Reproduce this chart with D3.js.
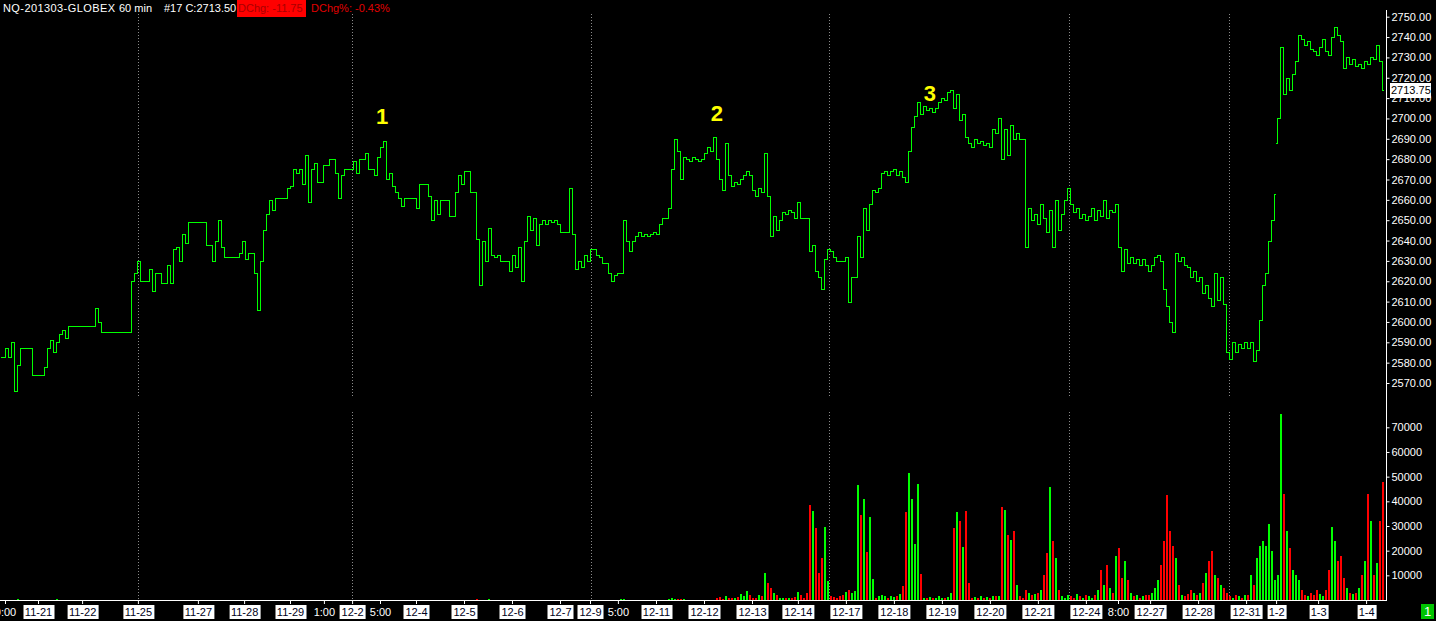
<!DOCTYPE html>
<html>
<head>
<meta charset="utf-8">
<title>NQ-201303-GLOBEX 60 min</title>
<script src="https://cdn.jsdelivr.net/npm/d3@7"></script>
<style>
body { margin: 0; background: #000; overflow: hidden; }
svg { display: block; font-family: "Liberation Sans", Arial, sans-serif; }
</style>
</head>
<body>
<div id="chartdiv"></div>
<script>
/*global d3 */

////////////////////////////////////////
// chart data
////////////////////////////////////////

// one close per hourly bar, bar 0 = left edge
var closes = [
    2583, 2587, 2583, 2590, 2566, 2579, 2587, 2587, 2587, 2587,
    2574, 2574, 2574, 2574, 2578, 2587, 2591, 2585, 2590, 2594,
    2596, 2592, 2598, 2598, 2598, 2598, 2598, 2598, 2598, 2598,
    2598, 2607, 2600, 2595, 2595, 2595, 2595, 2595, 2595, 2595,
    2595, 2595, 2595, 2620, 2624, 2630, 2620, 2620, 2620, 2626,
    2615, 2624, 2624, 2619, 2619, 2628, 2619, 2636, 2637, 2630,
    2643, 2639, 2649, 2649, 2649, 2649, 2649, 2649, 2638, 2638,
    2630, 2640, 2650, 2637, 2632, 2632, 2632, 2632, 2632, 2634,
    2640, 2631, 2634, 2634, 2624, 2606, 2630, 2645, 2653, 2660,
    2655, 2661, 2661, 2661, 2661, 2666, 2667, 2675, 2673, 2675,
    2668, 2682, 2659, 2675, 2678, 2669, 2669, 2677, 2677, 2680,
    2680, 2673, 2661, 2672, 2675, 2675, 2675, 2679, 2673, 2680,
    2680, 2683, 2675, 2675, 2672, 2681, 2686, 2689, 2670, 2673,
    2667, 2664, 2661, 2657, 2661, 2661, 2661, 2661, 2656, 2668,
    2668, 2668, 2662, 2650, 2660, 2653, 2660, 2660, 2660, 2652,
    2652, 2664, 2672, 2668, 2674, 2674, 2664, 2664, 2641, 2618,
    2640, 2630, 2646, 2633, 2632, 2633, 2630, 2630, 2630, 2625,
    2633, 2627, 2637, 2620, 2640, 2652, 2645, 2651, 2638, 2648,
    2650, 2648, 2650, 2649, 2650, 2648, 2644, 2644, 2644, 2666,
    2643, 2626, 2630, 2627, 2633, 2630, 2636, 2636, 2633, 2632,
    2629, 2629, 2624, 2620, 2623, 2624, 2624, 2650, 2640, 2635,
    2640, 2642, 2644, 2642, 2643, 2642, 2643, 2644, 2643, 2648,
    2651, 2651, 2656, 2675, 2690, 2684, 2670, 2681, 2680, 2679,
    2681, 2680, 2679, 2680, 2683, 2686, 2684, 2691, 2680, 2670,
    2665, 2688, 2672, 2667, 2669, 2668, 2670, 2672, 2674, 2672,
    2665, 2662, 2666, 2664, 2683, 2662, 2642, 2652, 2645, 2650,
    2654, 2653, 2655, 2654, 2651, 2659, 2651, 2651, 2651, 2635,
    2638, 2625, 2622, 2616, 2631, 2636, 2635, 2632, 2630, 2630,
    2630, 2632, 2610, 2622, 2622, 2642, 2632, 2656, 2645, 2658,
    2665, 2664, 2666, 2673, 2674, 2672, 2674, 2675, 2672, 2674,
    2671, 2669, 2684, 2696, 2701, 2708, 2702, 2706, 2704, 2705,
    2703, 2705, 2708, 2710, 2709, 2713, 2714, 2705, 2712, 2699,
    2702, 2691, 2688, 2686, 2690, 2688, 2689, 2687, 2688, 2686,
    2695, 2693, 2700, 2680, 2695, 2682, 2697, 2690, 2693, 2690,
    2690, 2637, 2656, 2650, 2653, 2648, 2658, 2651, 2644, 2655,
    2637, 2660, 2645, 2653, 2660, 2666, 2658, 2654, 2656, 2651,
    2653, 2650, 2652, 2656, 2650, 2655, 2652, 2660, 2651, 2655,
    2654, 2658, 2637, 2625, 2636, 2629, 2632, 2629, 2631, 2628,
    2631, 2628, 2625, 2628, 2632, 2633, 2630, 2616, 2608, 2600,
    2595, 2634, 2630, 2632, 2628, 2627, 2622, 2625, 2620, 2622,
    2614, 2618, 2612, 2608, 2624, 2611, 2622, 2609, 2585, 2582,
    2590, 2585, 2589, 2587, 2590, 2587, 2590, 2581, 2586, 2601,
    2618, 2624, 2640, 2650, 2663, 2700, 2735, 2712, 2720, 2714,
    2722, 2728, 2741, 2739, 2736, 2738, 2734, 2733, 2731, 2735,
    2739, 2733, 2731, 2740, 2745, 2741, 2738, 2725, 2730, 2727,
    2729, 2726, 2727, 2725, 2728, 2727, 2730, 2729, 2736, 2728,
    2713.75
];

// bars that opened away from the previous close: [bar, open]
var gapOpens = [[425, 2688]];

// contracts per bar, in thousands
var volumesK = [
    0, 0, 0, 0, 0, 0.3, 0, 0, 0, 0,
    0, 0, 0, 0, 0, 0, 0, 0, 0.3, 0,
    0, 0, 0, 0, 0, 0, 0, 0, 0, 0,
    0, 0, 0, 0, 0, 0, 0, 0, 0, 0,
    0, 0, 0, 0, 0, 0, 0, 0, 0, 0,
    0, 0, 0, 0, 0, 0, 0, 0, 0, 0,
    0, 0, 0, 0, 0, 0, 0, 0, 0, 0,
    0, 0, 0, 0, 0, 0, 0, 0, 0, 0,
    0, 0, 0, 0, 0, 0, 0, 0, 0, 0,
    0, 0, 0, 0, 0, 0, 0, 0, 0, 0,
    0, 0, 0, 0, 0, 0, 0, 0, 0, 0,
    0, 0, 0, 0, 0, 0, 0, 0, 0, 0,
    0, 0, 0, 0, 0, 0, 0, 0, 0, 0,
    0, 0, 0, 0, 0, 0, 0, 0, 0, 0,
    0, 0, 0, 0, 0, 0, 0, 0, 0, 0,
    0, 0, 0, 0, 0, 0, 0, 0, 0.6, 0,
    0, 0, 0.5, 0, 0, 0, 0, 0, 0, 0,
    0, 0, 0, 0, 0, 0, 0, 0, 0, 0,
    0, 0, 0, 0, 0, 0, 0, 0, 0, 0,
    0, 0, 0, 0, 0, 0, 0, 0, 0, 0,
    0, 0, 0, 0, 0, 0, 0.5, 0.4, 0, 0,
    0, 0, 0, 0, 0, 0, 0, 0, 0, 0,
    0, 0, 0.5, 0.8, 0.6, 0.4, 0.5, 0.3, 0, 0,
    0, 0, 0, 0, 0, 0, 0, 0, 0.8, 1.2,
    0.6, 1.5, 0.7, 1.0, 0.8, 1.2, 2.5, 1.5, 3.5, 2.0,
    1.0, 0.8, 2.0, 1.5, 11, 7, 5, 3, 2, 1,
    0.8, 0.8, 1, 1, 1.2, 3.2, 2, 1, 3, 38.5,
    36.2, 29.3, 11, 17.1, 29.7, 7.7, 1.5, 1.2, 1, 1.5,
    2, 3.3, 4, 3, 3.5, 46.6, 34.5, 41, 19.6, 33.6,
    8.5, 1, 1.5, 2, 1.5, 1, 1.5, 1.2, 1.5, 2.5,
    5.7, 35.8, 51.4, 41, 22.8, 47, 10.5, 0.8, 1, 1.2,
    0.8, 1, 1.5, 1, 0.8, 1.2, 3, 29.2, 35.8, 32,
    21.5, 36.1, 6.9, 1, 1.2, 0.8, 1.5, 1, 1.2, 0.8,
    1.5, 1.5, 1.8, 37.7, 36.5, 26.3, 24.3, 28, 6.1, 1.5,
    1, 4, 3, 2, 2.5, 3, 4, 10, 19, 46,
    24, 17, 4, 1.5, 1, 2, 1.5, 1, 2.5, 1.5,
    1, 2, 1.5, 1, 2, 4, 12, 6, 14, 5,
    3, 18, 21, 9, 16, 8, 3, 1.5, 2, 1,
    1.5, 2, 2, 3, 5, 8, 14, 24, 42.5, 28,
    22, 17, 6, 2, 1.5, 2.5, 4, 3, 2, 3,
    7, 11, 16, 20, 10, 9, 6, 5, 3, 1.5,
    1, 2, 1.5, 1, 2, 2, 10, 6, 17, 22,
    24, 22, 31, 20, 8, 10, 75.5, 43, 28, 21,
    12, 10, 8, 4, 2, 1.5, 3, 2, 4, 2.5,
    1.5, 4, 12, 29.5, 24, 16, 18, 9, 5, 3,
    2.5, 3, 5, 10, 16, 43, 32, 10, 15, 32,
    48
];

// session labels on the time axis: [text, bar]
var dateLabels = [
    ["11-21", 12], ["11-22", 26.7], ["11-25", 45.3], ["11-27", 65.3],
    ["11-28", 80.7], ["11-29", 96], ["12-2", 116.7], ["12-4", 138],
    ["12-5", 154], ["12-6", 170], ["12-7", 186], ["12-9", 196],
    ["12-11", 218], ["12-12", 234], ["12-13", 250], ["12-14", 265.3],
    ["12-17", 281.3], ["12-18", 297.3], ["12-19", 313.3], ["12-20", 329.3],
    ["12-21", 345.3], ["12-24", 361.3], ["12-27", 382.7], ["12-28", 398.7],
    ["12-31", 414.7], ["1-2", 424.7], ["1-3", 438.7], ["1-4", 454.7]
];
var timeLabels = [["0:00", 1], ["1:00", 107.3], ["5:00", 126], ["5:00", 205.3], ["8:00", 372]];

// first bar of each week (dotted separators)
var weekStarts = [45.3, 116.7, 196.3, 275.7, 355.7, 409];

var priceTicks = [2570, 2580, 2590, 2600, 2610, 2620, 2630, 2640, 2650, 2660,
                  2670, 2680, 2690, 2700, 2710, 2720, 2730, 2740, 2750];
var volumeTicks = [10000, 20000, 30000, 40000, 50000, 60000, 70000];

// wave counts written on the chart: [text, bar, price]
var waveMarks = [["1", 126.7, 2697.2], ["2", 238.3, 2698.7], ["3", 309.3, 2708.5]];

var lastPrice = 2713.75;


var app = {};

app.chart = (function () {
    "use strict";

    ////////////////////////////////////////
    // closure variables
    ////////////////////////////////////////

    var cw = 1436, ch = 621,
        axisX = 1386.5,
        green = "#00ff00", red = "#ff0000",
        svg, x, yp, yv, bars,


    ////////////////////////////////////////
    // helper functions
    ////////////////////////////////////////

    buildBars = function () {
        var gapmap = {}, up = true;
        gapOpens.forEach(function (g) { gapmap[g[0]] = g[1]; });
        bars = closes.map(function (c, i) {
            var o = (gapmap[i] !== undefined) ? gapmap[i] : (i ? closes[i - 1] : c);
            return {i: i, open: o, close: c, vol: volumesK[i] * 1000};
        });
        //flat bars keep the colour of the bar before
        bars.forEach(function (b) {
            if(b.close > b.open) { up = true; }
            else if(b.close < b.open) { up = false; }
            b.up = up; });
    },


    px = function (i) {
        return Math.round(x(i));
    },


    drawSeparators = function () {
        var g = svg.append("g")
            .attr("stroke", "#8a8a8a")
            .attr("stroke-dasharray", "1,2");
        g.selectAll("line.wk").data(weekStarts).join("line")
            .attr("x1", function (d) { return px(d) + 0.5; })
            .attr("x2", function (d) { return px(d) + 0.5; })
            .attr("y1", 14).attr("y2", 398);
        g.selectAll("line.wv").data(weekStarts).join("line")
            .attr("x1", function (d) { return px(d) + 0.5; })
            .attr("x2", function (d) { return px(d) + 0.5; })
            .attr("y1", 412).attr("y2", 600);
    },


    drawPrice = function () {
        svg.append("g")
            .attr("fill", "none")
            .attr("stroke", green)
            .attr("shape-rendering", "crispEdges")
            .selectAll("path").data(bars).join("path")
            .attr("d", function (b) {
                var xi = px(b.i),
                    yo = Math.round(yp(b.open)) + 0.5,
                    yc = Math.round(yp(b.close)) + 0.5;
                return "M" + (xi - 1) + "," + yo + "H" + (xi + 0.5) +
                    "V" + yc + "H" + (xi + 2);
            });
    },


    drawVolume = function () {
        svg.append("g")
            .attr("shape-rendering", "crispEdges")
            .selectAll("rect").data(bars.filter(function (b) { return b.vol > 0; }))
            .join("rect")
            .attr("x", function (b) { return px(b.i); })
            .attr("width", 2)
            .attr("y", function (b) { return Math.min(599, Math.round(yv(b.vol))); })
            .attr("height", function (b) {
                return 600 - Math.min(599, Math.round(yv(b.vol))); })
            .attr("fill", function (b) { return b.up ? green : red; });
    },


    styleAxis = function (g) {
        g.attr("font-family", null).attr("font-size", null);
        g.select(".domain").remove();
        g.selectAll(".tick line").attr("stroke", "#fff");
        g.selectAll(".tick text").attr("fill", "#fff")
            .style("font-size", "11px");
    },


    drawRightAxes = function () {
        var g, vb;
        g = svg.append("g").attr("transform", "translate(" + axisX + ",0)")
            .call(d3.axisRight(yp).tickValues(priceTicks).tickSize(3)
                  .tickPadding(2).tickFormat(d3.format(".2f")));
        styleAxis(g);
        g = svg.append("g").attr("transform", "translate(" + axisX + ",0)")
            .call(d3.axisRight(yv).tickValues(volumeTicks).tickSize(3)
                  .tickPadding(2).tickFormat(d3.format("d")));
        styleAxis(g);
        svg.append("path")
            .attr("d", "M0,600.5H" + axisX + "V10")
            .attr("fill", "none").attr("stroke", "#fff")
            .attr("shape-rendering", "crispEdges");
        //last price flag
        vb = Math.round(yp(lastPrice));
        svg.append("rect")
            .attr("x", 1390).attr("y", vb - 7).attr("width", 41).attr("height", 15)
            .attr("fill", "#fff");
        svg.append("text")
            .attr("x", 1391).attr("y", vb + 4)
            .style("font-size", "11px").attr("fill", "#000")
            .text(d3.format(".2f")(lastPrice));
    },


    drawTimeAxis = function () {
        var all, lookup = {}, g;
        all = dateLabels.map(function (d) { return {t: d[0], i: d[1], box: true}; })
            .concat(timeLabels.map(function (d) { return {t: d[0], i: d[1], box: false}; }));
        all.forEach(function (d) { lookup[d.i] = d; });
        g = svg.append("g").attr("transform", "translate(0,600)")
            .call(d3.axisBottom(x).tickValues(all.map(function (d) { return d.i; }))
                  .tickSize(4).tickPadding(4)
                  .tickFormat(function (i) { return lookup[i].t; }));
        styleAxis(g);
        g.selectAll(".tick text")
            .attr("fill", function (i) { return lookup[i].box ? "#000020" : "#fff"; });
        g.selectAll(".tick").each(function (i) {
            var t, bb;
            if(!lookup[i].box) {
                return; }
            t = d3.select(this).select("text");
            bb = t.node().getBBox();
            d3.select(this).insert("rect", "text")
                .attr("x", Math.floor(bb.x) - 1).attr("y", 5)
                .attr("width", Math.ceil(bb.width) + 3).attr("height", 14)
                .attr("fill", "#fff"); });
    },


    drawHeader = function () {
        var hdr = svg.append("g").style("font-size", "11px");
        hdr.append("text").attr("x", 3).attr("y", 12).attr("fill", "#fff")
            .attr("textLength", 112).attr("lengthAdjust", "spacing")
            .text("NQ-201303-GLOBEX");
        hdr.append("text").attr("x", 119).attr("y", 12).attr("fill", "#fff")
            .text("60 min");
        hdr.append("text").attr("x", 164).attr("y", 12).attr("fill", "#fff")
            .text("#17 C:" + d3.format(".2f")(2713.5));
        hdr.append("rect").attr("x", 237).attr("y", 0)
            .attr("width", 69).attr("height", 17).attr("fill", red);
        hdr.append("text").attr("x", 238).attr("y", 12).attr("fill", "#a80000")
            .text("DChg: -11.75");
        hdr.append("text").attr("x", 311).attr("y", 12).attr("fill", "#e00000")
            .text("DChg%: -0.43%");
        //page number flag, bottom right
        svg.append("rect").attr("x", 1421).attr("y", 604)
            .attr("width", 13).attr("height", 15).attr("fill", "#00c400");
        svg.append("text").attr("x", 1427.5).attr("y", 616)
            .attr("text-anchor", "middle").attr("fill", "#fff")
            .style("font-size", "13px").text("1");
    },


    drawWaveMarks = function () {
        svg.append("g").selectAll("text").data(waveMarks).join("text")
            .attr("x", function (d) { return x(d[1]); })
            .attr("y", function (d) { return yp(d[2]); })
            .attr("text-anchor", "middle")
            .attr("fill", "#ffff00")
            .style("font-size", "22px").style("font-weight", "bold")
            .text(function (d) { return d[0]; });
    };


    ////////////////////////////////////////
    // published functions
    ////////////////////////////////////////
return {

    run: function () {
        if(closes.length !== volumesK.length) {
            console.warn("bars " + closes.length + " vols " + volumesK.length); }
        buildBars();
        x = d3.scaleLinear().domain([0, closes.length - 1]).range([2, 1382]);
        yp = d3.scaleLinear().domain([2570, 2750]).range([383, 16.7]);
        yv = d3.scaleLinear().domain([0, 70000]).range([600, 427.3]);
        svg = d3.select("#chartdiv").append("svg")
            .attr("width", cw).attr("height", ch)
            .style("background", "#000");
        drawSeparators();
        drawVolume();
        drawPrice();
        drawRightAxes();
        drawTimeAxis();
        drawHeader();
        drawWaveMarks();
    }

};  //end of returned functions
}());

app.chart.run();
</script>
</body>
</html>
